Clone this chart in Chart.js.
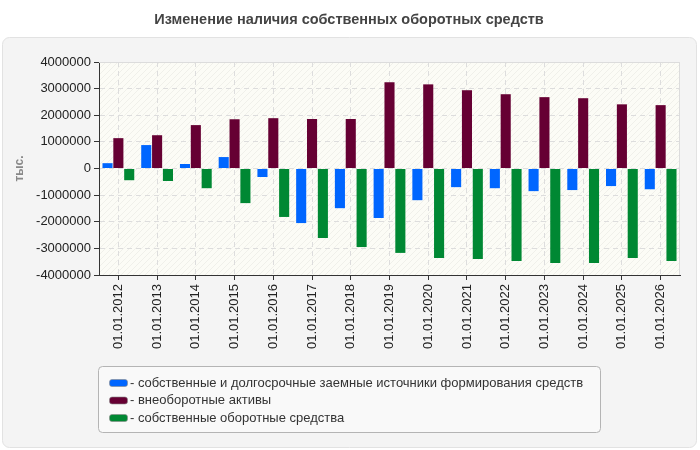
<!DOCTYPE html>
<html>
<head>
<meta charset="utf-8">
<script src="https://cdn.jsdelivr.net/npm/chart.js@4.4.1/dist/chart.umd.min.js"></script>
<style>
  html, body { margin: 0; padding: 0; background: #fff; }
  #wrap { width: 700px; height: 450px; position: relative; }
</style>
</head>
<body>
<div id="wrap"><canvas id="chart" width="700" height="450"></canvas></div>
<script>
const chartTitle = "Изменение наличия собственных оборотных средств";
const axisTitle = "тыс.";
const dates = [
  "01.01.2012", "01.01.2013", "01.01.2014", "01.01.2015", "01.01.2016",
  "01.01.2017", "01.01.2018", "01.01.2019", "01.01.2020", "01.01.2021",
  "01.01.2022", "01.01.2023", "01.01.2024", "01.01.2025", "01.01.2026"
];
const seriesNames = [
  "- собственные и долгосрочные заемные источники формирования средств",
  "- внеоборотные активы",
  "- собственные оборотные средства"
];
const sources = [200000, 880000, 170000, 430000, -320000, -2050000, -1490000, -1860000, -1190000, -700000, -740000, -850000, -810000, -660000, -780000];
const fixedAssets = [1140000, 1250000, 1630000, 1850000, 1890000, 1860000, 1860000, 3240000, 3160000, 2940000, 2790000, 2680000, 2640000, 2410000, 2380000];
const workingCapital = [-440000, -470000, -740000, -1300000, -1820000, -2610000, -2950000, -3170000, -3360000, -3400000, -3470000, -3550000, -3550000, -3360000, -3470000];
const seriesColors = ["#0066ff", "#660033", "#008833"];

function roundRect(ctx, x, y, w, h, r) {
  ctx.beginPath();
  ctx.moveTo(x + r, y);
  ctx.lineTo(x + w - r, y);
  ctx.arcTo(x + w, y, x + w, y + r, r);
  ctx.lineTo(x + w, y + h - r);
  ctx.arcTo(x + w, y + h, x + w - r, y + h, r);
  ctx.lineTo(x + r, y + h);
  ctx.arcTo(x, y + h, x, y + h - r, r);
  ctx.lineTo(x, y + r);
  ctx.arcTo(x, y, x + r, y, r);
  ctx.closePath();
}

function hatchPattern(ctx) {
  const c = document.createElement('canvas');
  c.width = 6; c.height = 6;
  const p = c.getContext('2d');
  p.fillStyle = '#fcfcf6';
  p.fillRect(0, 0, 6, 6);
  p.strokeStyle = '#f0f0ea';
  p.lineWidth = 1;
  p.beginPath();
  p.moveTo(0, 6); p.lineTo(6, 0);
  p.moveTo(-1, 1); p.lineTo(1, -1);
  p.moveTo(5, 7); p.lineTo(7, 5);
  p.stroke();
  return ctx.createPattern(c, 'repeat');
}

const frame = {
  id: 'frame',
  beforeDraw(chart) {
    const { ctx, chartArea } = chart;
    ctx.save();
    ctx.fillStyle = '#fff';
    ctx.fillRect(0, 0, chart.width, chart.height);
    roundRect(ctx, 2.5, 37.5, 694, 410, 7);
    ctx.fillStyle = '#f4f4f4';
    ctx.fill();
    ctx.strokeStyle = '#e2e2e2';
    ctx.lineWidth = 1;
    ctx.stroke();
    ctx.fillStyle = '#444';
    ctx.font = 'bold 14.5px "Liberation Sans", Arial, sans-serif';
    ctx.textAlign = 'center';
    ctx.textBaseline = 'middle';
    ctx.fillText(chartTitle, 349, 20);
    ctx.fillStyle = hatchPattern(ctx);
    ctx.fillRect(chartArea.left, chartArea.top, chartArea.right - chartArea.left, chartArea.bottom - chartArea.top);
    ctx.restore();
  },
  beforeDatasetsDraw(chart) {
    const { ctx, chartArea } = chart;
    ctx.save();
    ctx.strokeStyle = '#dcdcdc';
    ctx.lineWidth = 1;
    ctx.beginPath();
    ctx.moveTo(chartArea.left, chartArea.top + 0.5);
    ctx.lineTo(chartArea.right - 0.5, chartArea.top + 0.5);
    ctx.lineTo(chartArea.right - 0.5, chartArea.bottom);
    ctx.stroke();
    ctx.restore();
  },
  afterDraw(chart) {
    const { ctx } = chart;
    ctx.save();
    roundRect(ctx, 98.5, 366.5, 502, 66, 4);
    ctx.fillStyle = '#f9f9f9';
    ctx.fill();
    ctx.strokeStyle = '#b4b4b4';
    ctx.stroke();
    ctx.font = '13px "Liberation Sans", Arial, sans-serif';
    ctx.textBaseline = 'middle';
    ctx.textAlign = 'left';
    chart.data.datasets.forEach((ds, i) => {
      const y = 383 + i * 17.5;
      roundRect(ctx, 109.5, y - 3.5, 18, 7, 2.5);
      ctx.fillStyle = ds.backgroundColor;
      ctx.fill();
      ctx.strokeStyle = '#888';
      ctx.lineWidth = 0.6;
      ctx.stroke();
      ctx.fillStyle = '#333';
      ctx.fillText(ds.label, 130, y);
    });
    ctx.restore();
  }
};

const tickFont = { family: '"Liberation Sans", Arial, sans-serif', size: 13 };

new Chart(document.getElementById('chart'), {
  type: 'bar',
  data: {
    labels: dates,
    datasets: [
      { label: seriesNames[0], data: sources, backgroundColor: seriesColors[0] },
      { label: seriesNames[1], data: fixedAssets, backgroundColor: seriesColors[1] },
      { label: seriesNames[2], data: workingCapital, backgroundColor: seriesColors[2] }
    ]
  },
  options: {
    responsive: false,
    animation: false,
    layout: { padding: { left: 0, top: 62, right: 20, bottom: 0 } },
    datasets: { bar: { categoryPercentage: 0.84, barPercentage: 0.93 } },
    plugins: {
      legend: { display: false },
      tooltip: { enabled: false }
    },
    scales: {
      x: {
        afterFit(scale) { scale.height = 175; },
        grid: {
          offset: false,
          color: '#dddddd',
          tickColor: '#333',
          tickLength: 5,
          tickBorderDash: []
        },
        border: { color: '#333', width: 1, dash: [5, 4] },
        ticks: { color: '#222', font: tickFont, maxRotation: 90, minRotation: 90, padding: 4 }
      },
      y: {
        min: -4000000,
        max: 4000000,
        afterFit(scale) { scale.width = 99; },
        grid: {
          color: '#dddddd',
          tickColor: '#333',
          tickLength: 5,
          tickBorderDash: []
        },
        border: { color: '#333', width: 1, dash: [5, 4] },
        ticks: {
          color: '#222',
          font: tickFont,
          stepSize: 1000000,
          padding: 3,
          callback: v => String(v)
        },
        title: {
          display: true,
          text: axisTitle,
          color: '#888',
          font: { family: '"Liberation Sans", Arial, sans-serif', size: 12, weight: 'bold' },
          padding: { top: 12, bottom: 0 }
        }
      }
    }
  },
  plugins: [frame]
});
</script>
</body>
</html>
